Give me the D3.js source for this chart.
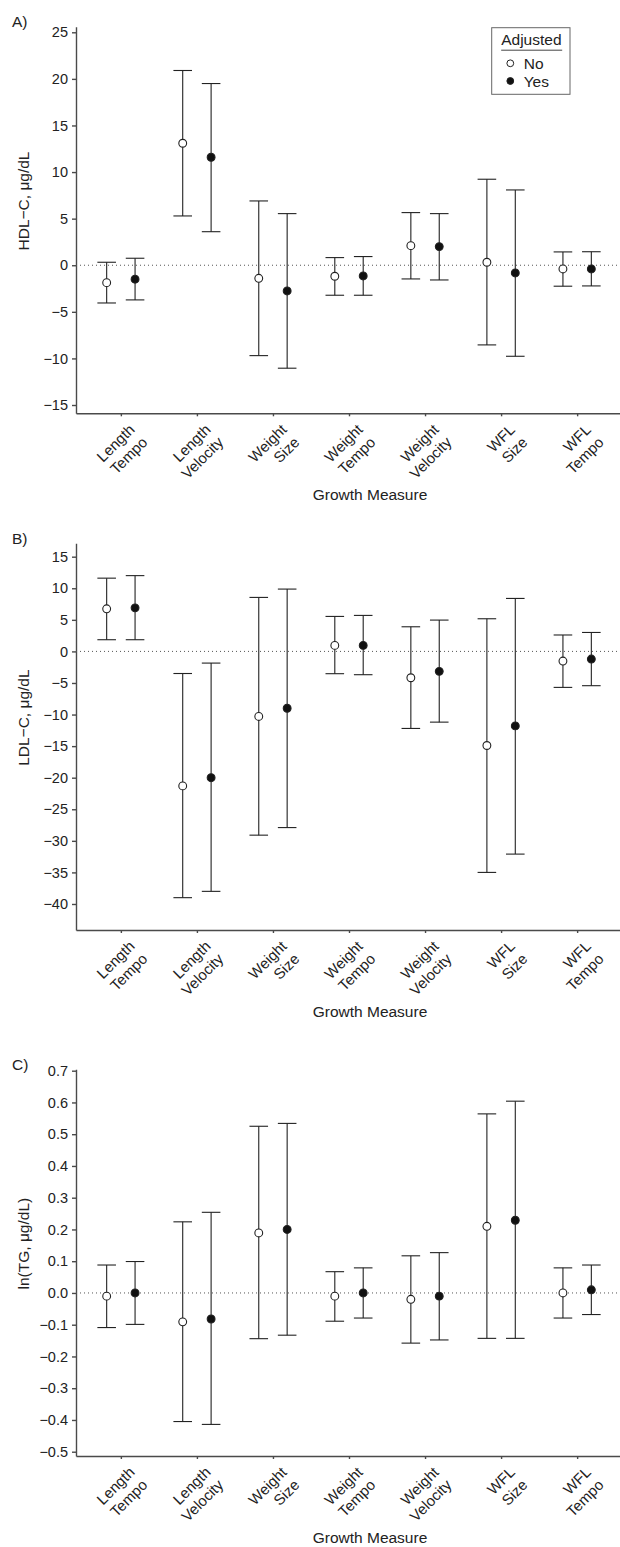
<!DOCTYPE html>
<html>
<head>
  <meta charset="utf-8">
  <title>Growth measures and lipids</title>
  <script src="https://d3js.org/d3.v7.min.js"></script>
  <style>
    body { margin: 0; background: #fff; }
    svg text { font-family: "Liberation Sans", Arial, Helvetica, sans-serif; fill: #222; }
  </style>
</head>
<body>
<div id="chart"></div>
<script>
  // categories on the x axis (two lines each)
  var categories = ["Length Tempo", "Length Velocity", "Weight Size", "Weight Tempo",
                    "Weight Velocity", "WFL Size", "WFL Tempo"];

  // A) HDL-C
  var hdlNoEst  = [-1.87, 13.09, -1.4, -1.18, 2.1, 0.32, -0.4];
  var hdlNoLo   = [-4.05, 5.29, -9.7, -3.22, -1.47, -8.55, -2.25];
  var hdlNoHi   = [0.32, 20.9, 6.9, 0.82, 5.65, 9.23, 1.43];
  var hdlYesEst = [-1.5, 11.59, -2.76, -1.15, 2.0, -0.83, -0.4];
  var hdlYesLo  = [-3.72, 3.6, -11.05, -3.22, -1.58, -9.77, -2.22];
  var hdlYesHi  = [0.75, 19.5, 5.54, 0.93, 5.54, 8.08, 1.45];

  // B) LDL-C
  var ldlNoEst  = [6.75, -21.3, -10.3, 0.95, -4.17, -14.9, -1.53];
  var ldlNoLo   = [1.85, -39.0, -29.1, -3.53, -12.2, -35.0, -5.7];
  var ldlNoHi   = [11.6, -3.5, 8.55, 5.54, 3.9, 5.17, 2.6];
  var ldlYesEst = [6.9, -20.0, -9.0, 0.95, -3.16, -11.8, -1.21];
  var ldlYesLo  = [1.85, -38.0, -27.9, -3.69, -11.2, -32.1, -5.43];
  var ldlYesHi  = [12.0, -1.85, 9.87, 5.7, 4.96, 8.39, 3.0];

  // C) ln(TG)
  var tgNoEst  = [-0.01, -0.091, 0.189, -0.01, -0.02, 0.21, 0.0];
  var tgNoLo   = [-0.109, -0.405, -0.144, -0.089, -0.158, -0.143, -0.079];
  var tgNoHi   = [0.088, 0.224, 0.525, 0.067, 0.117, 0.564, 0.079];
  var tgYesEst = [0.0, -0.082, 0.2, 0.0, -0.01, 0.229, 0.01];
  var tgYesLo  = [-0.099, -0.414, -0.133, -0.079, -0.148, -0.143, -0.068];
  var tgYesHi  = [0.099, 0.254, 0.534, 0.079, 0.127, 0.604, 0.088];

  // y tick labels
  var hdlTicks = [-15, -10, -5, 0, 5, 10, 15, 20, 25];
  var ldlTicks = [-40, -35, -30, -25, -20, -15, -10, -5, 0, 5, 10, 15];
  var tgTicks  = [-0.5, -0.4, -0.3, -0.2, -0.1, 0, 0.1, 0.2, 0.3, 0.4, 0.5, 0.6, 0.7];

  var legendTitle = "Adjusted";
  var legendLabels = ["No", "Yes"];

  var W = 620, H = 1547;
  var left = 76, right = 622;
  var ink = "#222", axisInk = "#4a4a4a";

  var svg = d3.select("#chart").append("svg")
    .attr("width", W).attr("height", H);

  var x = d3.scalePoint().domain(categories).range([left, right]).padding(0.59);
  var dodge = 14.2;

  function panel(opt) {
    var g = svg.append("g");
    var y = d3.scaleLinear().domain(opt.domain).range([opt.bottom, opt.top]);

    // panel letter
    g.append("text").attr("x", 12).attr("y", opt.top + 0.5)
      .style("font-size", "15.5px").text(opt.letter);

    // y axis
    var ya = g.append("g").attr("transform", "translate(" + left + ",0)")
      .call(d3.axisLeft(y).tickValues(opt.ticks).tickSize(4).tickPadding(4)
        .tickFormat(opt.fmt).tickSizeOuter(0));
    ya.selectAll("text").style("font-size", "14.5px").attr("fill", ink);

    // x axis, labels on two lines rotated 45 degrees
    var xa = g.append("g").attr("transform", "translate(0," + opt.bottom + ")")
      .call(d3.axisBottom(x).tickSize(3).tickSizeOuter(0).tickFormat(""));
    xa.selectAll(".tick").each(function (d) {
      var parts = d.split(" ");
      var t = d3.select(this).append("text")
        .attr("transform", "translate(2,5) rotate(-45)")
        .attr("text-anchor", "end")
        .attr("fill", ink)
        .style("font-size", "15px");
      t.append("tspan").attr("x", 0).attr("dy", "1.15em").text(parts[0]);
      t.append("tspan").attr("x", 0).attr("dy", "1.2em").text(parts[1]);
    });
    [ya, xa].forEach(function (a) {
      a.selectAll("path, line").attr("stroke", axisInk).attr("stroke-width", 1.4);
    });

    // axis titles
    g.append("text")
      .attr("transform", "translate(24," + ((opt.top + opt.bottom) / 2 - 19) + ") rotate(-90)")
      .attr("text-anchor", "middle").attr("dy", "0.35em")
      .style("font-size", "15.5px").text(opt.ylabel);
    g.append("text").attr("x", 370).attr("y", opt.bottom + 87)
      .attr("text-anchor", "middle").style("font-size", "15.5px").text("Growth Measure");

    // reference line at zero
    g.append("line").attr("x1", left).attr("x2", W)
      .attr("y1", y(0)).attr("y2", y(0))
      .attr("stroke", "#555").attr("stroke-width", 1)
      .attr("stroke-dasharray", "1,3");

    var series = [
      { est: opt.noEst, lo: opt.noLo, hi: opt.noHi, dx: -dodge, fill: "#fff" },
      { est: opt.yesEst, lo: opt.yesLo, hi: opt.yesHi, dx: dodge, fill: "#111" }
    ];
    series.forEach(function (s) {
      var rows = categories.map(function (c, i) {
        return { cx: x(c) + s.dx, est: s.est[i], lo: s.lo[i], hi: s.hi[i] };
      });
      var eg = g.append("g").attr("stroke", ink).attr("stroke-width", 1.1);
      eg.selectAll(".stem").data(rows).enter().append("line")
        .attr("x1", function (d) { return d.cx; }).attr("x2", function (d) { return d.cx; })
        .attr("y1", function (d) { return y(d.lo); }).attr("y2", function (d) { return y(d.hi); });
      eg.selectAll(".capHi").data(rows).enter().append("line")
        .attr("x1", function (d) { return d.cx - 9.3; }).attr("x2", function (d) { return d.cx + 9.3; })
        .attr("y1", function (d) { return y(d.hi); }).attr("y2", function (d) { return y(d.hi); });
      eg.selectAll(".capLo").data(rows).enter().append("line")
        .attr("x1", function (d) { return d.cx - 9.3; }).attr("x2", function (d) { return d.cx + 9.3; })
        .attr("y1", function (d) { return y(d.lo); }).attr("y2", function (d) { return y(d.lo); });
      g.selectAll(null).data(rows).enter().append("circle")
        .attr("cx", function (d) { return d.cx; })
        .attr("cy", function (d) { return y(d.est); })
        .attr("r", 3.9)
        .attr("fill", s.fill).attr("stroke", ink).attr("stroke-width", 1.1);
    });
    return g;
  }

  var gA = panel({ letter: "A)", top: 26.7, bottom: 413.3, domain: [-15.89, 25.6],
    ticks: hdlTicks, fmt: d3.format("d"), ylabel: "HDL\u2212C, \u03bcg/dL",
    noEst: hdlNoEst, noLo: hdlNoLo, noHi: hdlNoHi,
    yesEst: hdlYesEst, yesLo: hdlYesLo, yesHi: hdlYesHi });

  panel({ letter: "B)", top: 543.3, bottom: 930, domain: [-44.12, 17.12],
    ticks: ldlTicks, fmt: d3.format("d"), ylabel: "LDL\u2212C, \u03bcg/dL",
    noEst: ldlNoEst, noLo: ldlNoLo, noHi: ldlNoHi,
    yesEst: ldlYesEst, yesLo: ldlYesLo, yesHi: ldlYesHi });

  panel({ letter: "C)", top: 1069.3, bottom: 1456, domain: [-0.5135, 0.7044],
    ticks: tgTicks, fmt: d3.format(".1f"), ylabel: "ln(TG, \u03bcg/dL)",
    noEst: tgNoEst, noLo: tgNoLo, noHi: tgNoHi,
    yesEst: tgYesEst, yesLo: tgYesLo, yesHi: tgYesHi });

  // legend (panel A only)
  var lg = gA.append("g").attr("transform", "translate(491.7,27.7)");
  lg.append("rect").attr("width", 78.3).attr("height", 66.6)
    .attr("fill", "#fff").attr("stroke", "#666").attr("stroke-width", 1);
  lg.append("text").attr("x", 9.5).attr("y", 17.5).style("font-size", "15.5px").text(legendTitle);
  lg.append("line").attr("x1", 9.5).attr("x2", 70.5).attr("y1", 22.5).attr("y2", 22.5)
    .attr("stroke", "#444").attr("stroke-width", 1);
  lg.selectAll(".key").data(legendLabels).enter().append("g")
    .attr("transform", function (d, i) { return "translate(0," + (35.6 + i * 17.7) + ")"; })
    .each(function (d, i) {
      var k = d3.select(this);
      k.append("circle").attr("cx", 18.6).attr("cy", 0).attr("r", 3.4)
        .attr("fill", i ? "#111" : "#fff").attr("stroke", ink).attr("stroke-width", 1);
      k.append("text").attr("x", 32).attr("y", 5.5).style("font-size", "15.5px").text(d);
    });
</script>
</body>
</html>
